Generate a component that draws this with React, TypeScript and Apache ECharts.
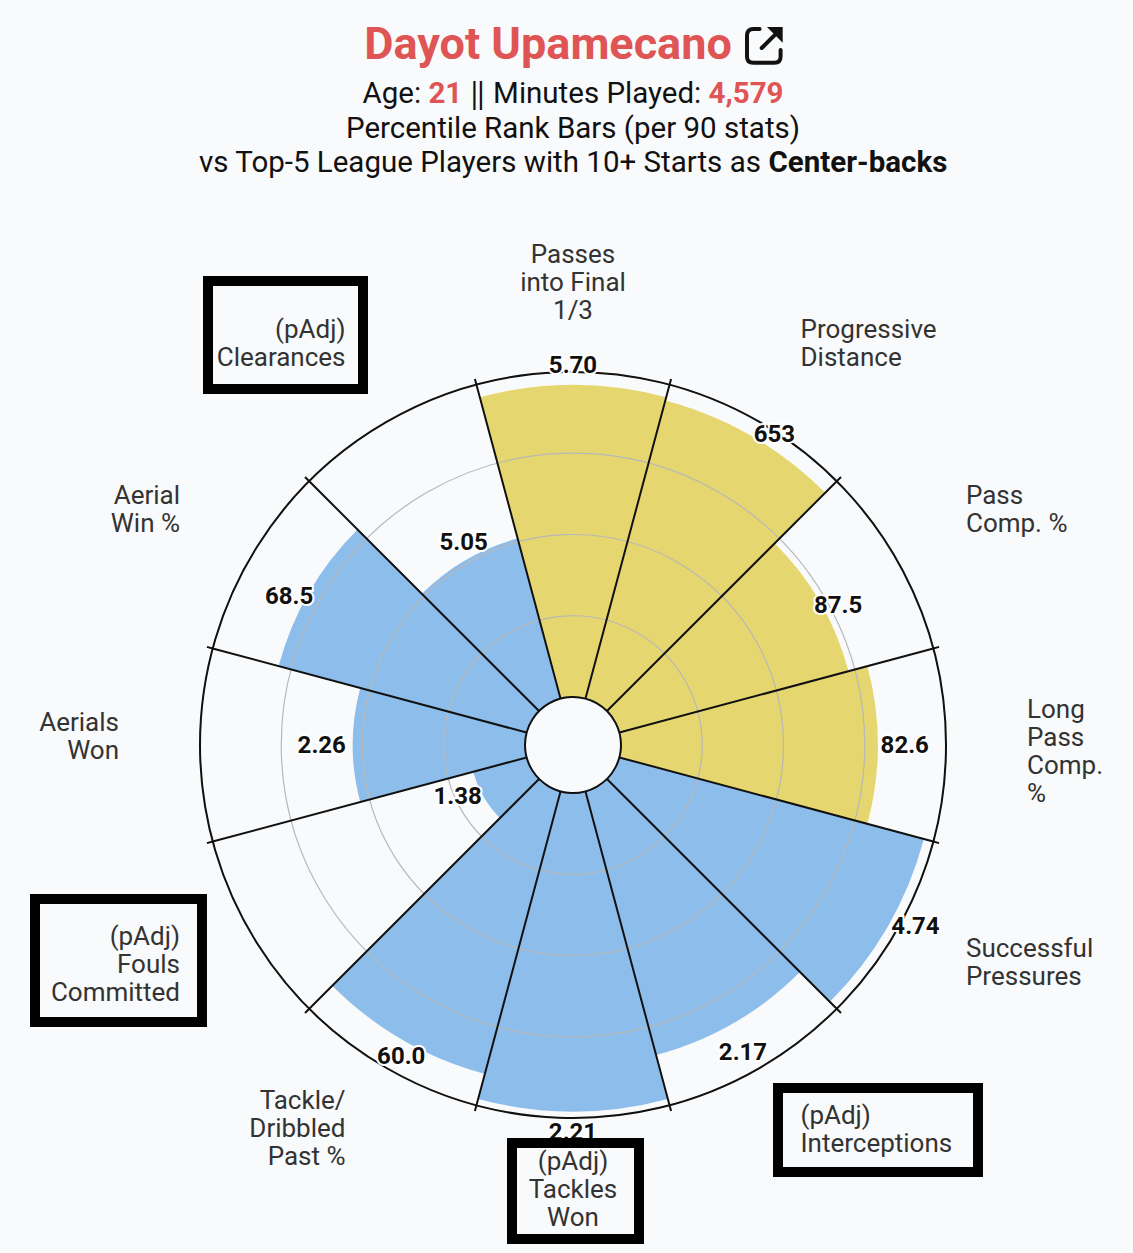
import React, { useEffect, useRef } from "react";
import * as echarts from "echarts";

// ---------- data ----------
const categories = [
  "Passes\ninto Final\n1/3",
  "Progressive\nDistance",
  "Pass\nComp. %",
  "Long\nPass\nComp.\n%",
  "Successful\nPressures",
  "(pAdj)\nInterceptions",
  "(pAdj)\nTackles\nWon",
  "Tackle/\nDribbled\nPast %",
  "(pAdj)\nFouls\nCommitted",
  "Aerials\nWon",
  "Aerial\nWin %",
  "(pAdj)\nClearances",
];
const percentiles = [96, 95, 73, 79, 97, 84, 98, 90, 17, 53, 79, 51];
const statValues = ["5.70", "653", "87.5", "82.6", "4.74", "2.17", "2.21", "60.0", "1.38", "2.26", "68.5", "5.05"];
const groups = ["pass", "pass", "pass", "pass", "def", "def", "def", "def", "def", "def", "def", "def"];
const radiusTicks = [0, 25, 50, 75, 100];

// ---------- styles / layout ----------
const BG = "#f9fafb";
const RED = "#df5454";
const groupColors: Record<string, string> = { pass: "#e6d66f", def: "#8dbdeb" };
const FONT = "Roboto, 'Noto Sans', sans-serif";
// per-label padding [top, right, bottom, left] to nudge angle-axis labels
const labelPadding = [
  [0, 0, 40, 0],
  [0, 0, 44, 37],
  [0, 0, 18, 63],
  [0, 0, 0, 73],
  [-2, 0, 0, 63],
  [26, 0, 0, 37],
  [21, 0, 0, 0],
  [11, 37, 0, 0],
  [-14, 63, 0, 0],
  [0, 73, 0, 0],
  [0, 63, 18, 0],
  [0, 37, 44, 0],
];
// extra spacer line (height) for middle-aligned labels
const spacers: Record<number, { where: "before" | "after"; h: number }> = {
  3: { where: "before", h: 11 },
  9: { where: "after", h: 19 },
};
// value-label placement: radial distance beyond bar end, and small pixel nudges
const valueLabelDistance = [18, 14, 14, 27, 23, 29, 20, 15, 23, 31, 16, 17];
const valueLabelNudge = [
  [0, -2], [16, 10], [6, 10], [0, 0], [8, -12], [-5, 4],
  [0, 0], [6, 3], [-6, -12], [0, 0], [-6, 11], [6, -3],
];
const boxes = [
  { x: 208, y: 281, width: 155, height: 108 },
  { x: 35, y: 899, width: 167, height: 123 },
  { x: 778, y: 1088, width: 200, height: 84 },
  { x: 512, y: 1143, width: 127, height: 96 },
];

let registered = false;
function registerShapes() {
  if (registered) return;
  registered = true;
  echarts.graphic.registerShape(
    "extLinkBox",
    echarts.graphic.extendPath("M10 4 H7 Q4 4 4 7 V17 Q4 20 7 20 H17 Q20 20 20 17 V14 M11 13 L18 6", {})
  );
  echarts.graphic.registerShape("extLinkHead", echarts.graphic.extendPath("M13.5 3 H21 V10.5 Z", {}));
}

export default function App() {
  const ref = useRef<HTMLDivElement>(null);
  useEffect(() => {
    if (!ref.current) return;
    registerShapes();
    const chart = echarts.init(ref.current, null, { renderer: "svg" });
    const angleData = categories.map((c, i) => ({
      value: c,
      textStyle: { padding: labelPadding[i] },
    }));
    const labelFormatter = (value: string, index: number) => {
      const sp = spacers[index];
      if (!sp) return value;
      const lines = value.split("\n").map((l) => `{t|${l}}`);
      if (sp.where === "before") lines.unshift(`{g${sp.h}| }`);
      else lines.push(`{g${sp.h}| }`);
      return lines.join("\n");
    };
    const spacerRich: Record<string, any> = {};
    Object.values(spacers).forEach((s) => {
      spacerRich["g" + s.h] = { fontSize: 2, lineHeight: s.h, color: "transparent" };
    });
    chart.setOption({
      animation: false,
      backgroundColor: BG,
      textStyle: { fontFamily: FONT },
      title: [
        {
          text: "Dayot Upamecano",
          left: 548,
          top: 17,
          padding: 0,
          textAlign: "center",
          textStyle: { color: RED, fontSize: 45, fontWeight: "bold", fontFamily: FONT, lineHeight: 52 },
        },
        {
          text:
            "Age: {r|21} \u2016 Minutes Played: {r|4,579}\nPercentile Rank Bars (per 90 stats)\nvs Top-5 League Players with 10+ Starts as {b|Center-backs}",
          left: 573,
          top: 76,
          padding: 0,
          textAlign: "center",
          textStyle: {
            color: "#111",
            fontSize: 29.5,
            fontWeight: "normal",
            fontFamily: FONT,
            lineHeight: 34.5,
            rich: {
              r: { color: RED, fontWeight: "bold", fontSize: 29.5, fontFamily: FONT, lineHeight: 34.5 },
              b: { color: "#111", fontWeight: "bold", fontSize: 29.5, fontFamily: FONT, lineHeight: 34.5 },
            },
          },
        },
      ],
      polar: { center: [573, 745], radius: [48, 373] },
      angleAxis: {
        type: "category",
        data: angleData,
        startAngle: 105,
        clockwise: true,
        boundaryGap: true,
        z: 4,
        axisLine: { show: true, lineStyle: { color: "#111", width: 2 } },
        axisTick: { show: true, length: 6, lineStyle: { color: "#111", width: 2 } },
        splitLine: { show: true, lineStyle: { color: "#111", width: 2 } },
        axisLabel: {
          interval: 0,
          margin: 8,
          fontSize: 26,
          lineHeight: 28,
          color: "#333",
          fontFamily: FONT,
          formatter: labelFormatter,
          rich: {
            t: { fontSize: 26, lineHeight: 28, color: "#333", fontFamily: FONT },
            ...spacerRich,
          },
        },
      },
      radiusAxis: {
        type: "value",
        min: radiusTicks[0],
        max: radiusTicks[radiusTicks.length - 1],
        interval: 25,
        z: 3,
        axisLine: { show: false },
        axisTick: { show: false },
        axisLabel: { show: false },
        splitLine: { show: true, lineStyle: { color: "#b8b8b8", width: 1.2 } },
      },
      series: [
        {
          type: "bar",
          coordinateSystem: "polar",
          z: 1,
          silent: true,
          barCategoryGap: "0%",
          barGap: "-100%",
          data: percentiles.map((v, i) => ({ value: v, itemStyle: { color: groupColors[groups[i]] } })),
        },
        {
          type: "bar",
          coordinateSystem: "polar",
          z: 6,
          silent: true,
          barCategoryGap: "0%",
          barGap: "-100%",
          itemStyle: { color: "rgba(0,0,0,0)" },
          data: percentiles.map((v, i) => ({
            value: v,
            label: { distance: valueLabelDistance[i], offset: valueLabelNudge[i] },
          })),
          label: {
            show: true,
            position: "end",
            rotate: 0,
            align: "center",
            verticalAlign: "middle",
            formatter: (p: any) => statValues[p.dataIndex],
            fontSize: 24,
            fontWeight: "bold",
            color: "#111",
            fontFamily: FONT,
            textBorderColor: "#ffffff",
            textBorderWidth: 4,
          },
        },
      ],
      graphic: [
        {
          type: "extLinkBox",
          x: 738.6,
          y: 20.7,
          scaleX: 2.1,
          scaleY: 2.1,
          z: 100,
          style: { stroke: "#111", lineWidth: 1.9, fill: null, lineCap: "round", lineJoin: "round" },
        },
        {
          type: "extLinkHead",
          x: 738.6,
          y: 20.7,
          scaleX: 2.1,
          scaleY: 2.1,
          z: 100,
          style: { fill: "#111" },
        },
        ...boxes.map((b) => ({
          type: "rect",
          z: 100,
          shape: b,
          style: { fill: null, stroke: "#000", lineWidth: 10 },
        })),
      ],
    });
    return () => chart.dispose();
  }, []);
  return (
    <div
      ref={ref}
      style={{ position: "fixed", left: 0, top: 0, width: 1133, height: 1253, background: BG }}
    />
  );
}
